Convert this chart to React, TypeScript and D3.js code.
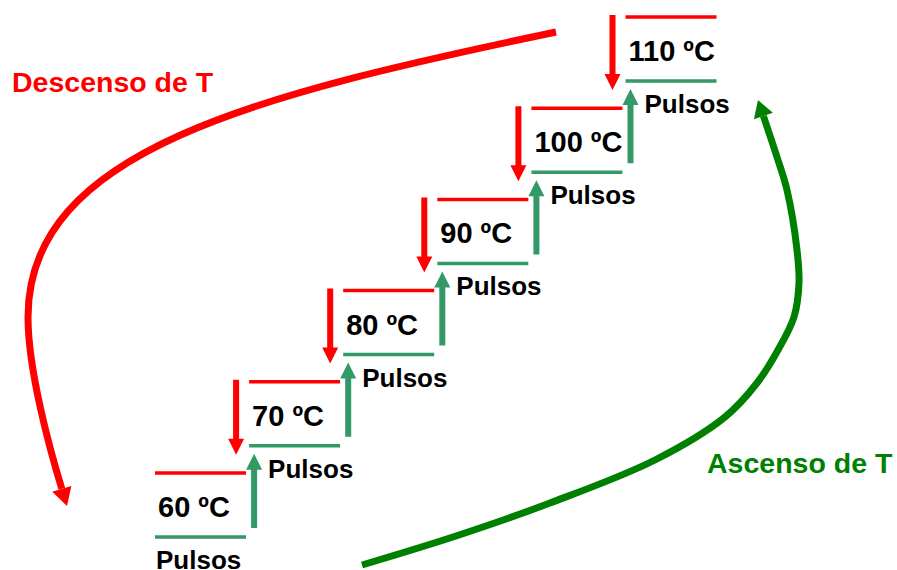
import React from "react";
import * as d3 from "d3";

// Step temperatures (ºC)
const temperatures = [60, 70, 80, 90, 100, 110];
const unitLabel = "ºC";
const pulseLabel = "Pulsos";
const descentLabel = "Descenso de T";
const ascentLabel = "Ascenso de T";

// Guide curves (layout)
type P = [number, number];
const descentStart: P = [556, 32];
const descentSegments: [P, P, P][] = [
  [[256, 95], [28, 150], [28, 317]],
  [[28, 370], [50, 450], [61.8, 488.8]],
];
const descentTip: P = [67, 506];

const ascentPoints: P[] = [
  [362, 565], [456, 536], [550, 503], [655, 460], [725, 417], [757, 383], [778, 350],
  [794, 317], [799, 283], [797, 250], [787, 190], [777, 157], [763.4, 116],
];
const ascentTip: P = [758, 100];

const W = 897;
const H = 570;
const RED = "#ff0000";
const STEP_GREEN = "#339966";
const CURVE_GREEN = "#008000";
const FONT = "'Liberation Sans', Arial, Helvetica, sans-serif";

function vArrow(x: number, y1: number, y2: number, shaft = 6, headW = 16, headL = 16) {
  const dir = Math.sign(y2 - y1);
  const base = y2 - dir * headL;
  const s = shaft / 2;
  const h = headW / 2;
  return [
    [x - s, y1], [x + s, y1], [x + s, base], [x + h, base], [x, y2], [x - h, base], [x - s, base],
  ].map((p) => p.join(",")).join(" ");
}

function headPoints(base: P, tip: P, headW = 20) {
  const dx = tip[0] - base[0];
  const dy = tip[1] - base[1];
  const len = Math.hypot(dx, dy);
  const px = -dy / len;
  const py = dx / len;
  return [
    tip,
    [base[0] + px * headW / 2, base[1] + py * headW / 2],
    [base[0] - px * headW / 2, base[1] - py * headW / 2],
  ].map((q) => q.join(",")).join(" ");
}

function bezierArrow(start: P, segs: [P, P, P][], tip: P) {
  const p = d3.path();
  p.moveTo(start[0], start[1]);
  segs.forEach(([c1, c2, e]) => p.bezierCurveTo(c1[0], c1[1], c2[0], c2[1], e[0], e[1]));
  const base = segs[segs.length - 1][2];
  return { path: p.toString(), head: headPoints(base, tip) };
}

function splineArrow(points: P[], tip: P) {
  const line = d3.line<P>().curve(d3.curveCatmullRom.alpha(0.5));
  return { path: line(points) || "", head: headPoints(points[points.length - 1], tip) };
}

export default function App() {
  const x = d3.scaleLinear().domain([60, 110]).range([155, 625.5]);
  const y = d3.scaleLinear().domain([60, 110]).range([473, 17]);
  const stepW = 91;
  const gap = 64;

  const desc = bezierArrow(descentStart, descentSegments, descentTip);
  const asc = splineArrow(ascentPoints, ascentTip);

  return (
    <div style={{ position: "absolute", left: 0, top: 0, width: W, height: H, background: "#fff" }}>
      <svg width={W} height={H} viewBox={`0 0 ${W} ${H}`} style={{ display: "block" }}>
        <rect x={0} y={0} width={W} height={H} fill="#fff" />
        {temperatures.map((t, i) => {
          const x0 = x(t);
          const yTop = y(t);
          const yBot = yTop + gap;
          const prev = i > 0 ? temperatures[i - 1] : null;
          return (
            <g key={t}>
              <line x1={x0} x2={x0 + stepW} y1={yTop} y2={yTop} stroke={RED} strokeWidth={3.5} />
              <line x1={x0} x2={x0 + stepW} y1={yBot} y2={yBot} stroke={STEP_GREEN} strokeWidth={3.5} />
              <text
                x={x0 + 3}
                y={yTop + 44}
                fontFamily={FONT}
                fontWeight="bold"
                fontSize={29}
                fill="#000"
              >
                {`${t} ${unitLabel}`}
              </text>
              <text
                x={x0 + (i === 0 ? 1 : 19)}
                y={yBot + 32}
                fontFamily={FONT}
                fontWeight="bold"
                fontSize={26}
                fill="#000"
              >
                {pulseLabel}
              </text>
              {prev !== null && (
                <>
                  <polygon points={vArrow(x0 - 13, yTop - 2, yBot + 9)} fill={RED} />
                  <polygon points={vArrow(x0 + 5, y(prev) + gap - 9, yBot + 8)} fill={STEP_GREEN} />
                </>
              )}
            </g>
          );
        })}

        <path d={desc.path} fill="none" stroke={RED} strokeWidth={7} />
        <polygon points={desc.head} fill={RED} />
        <path d={asc.path} fill="none" stroke={CURVE_GREEN} strokeWidth={7} />
        <polygon points={asc.head} fill={CURVE_GREEN} />

        <text x={12} y={92} fontFamily={FONT} fontWeight="bold" fontSize={28.5} fill={RED}>
          {descentLabel}
        </text>
        <text x={707} y={473} fontFamily={FONT} fontWeight="bold" fontSize={28.5} fill={CURVE_GREEN}>
          {ascentLabel}
        </text>
      </svg>
    </div>
  );
}
